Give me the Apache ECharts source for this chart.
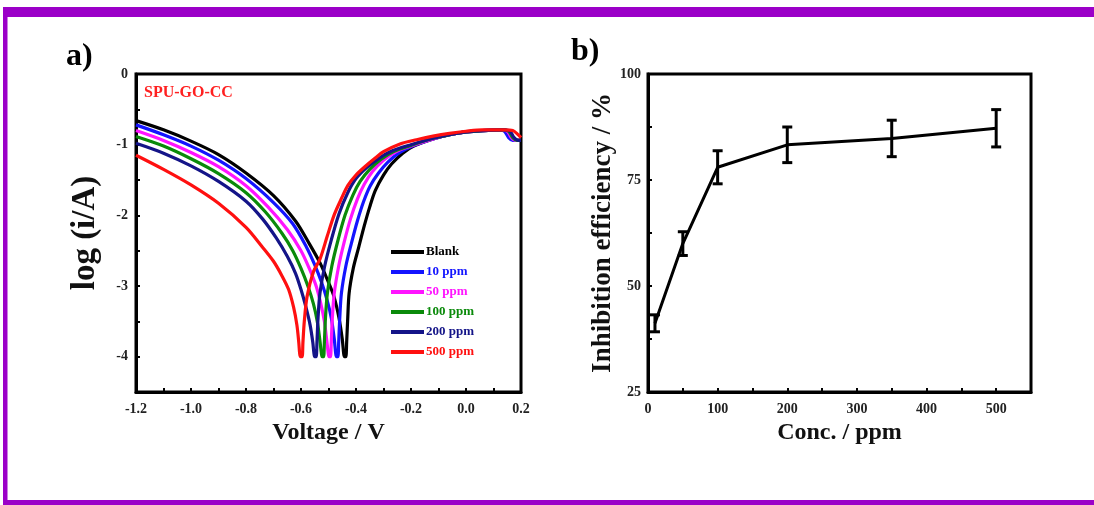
<!DOCTYPE html>
<html>
<head>
<meta charset="utf-8">
<script src="https://cdn.jsdelivr.net/npm/echarts@6/dist/echarts.min.js"></script>
<style>
  html, body { margin: 0; padding: 0; background: #fff; }
  #chart { width: 1094px; height: 505px; }
</style>
</head>
<body>
<div id="chart"></div>
<script>
// Polarisation curves (voltage in V, log current) for SPU-GO-CC in each inhibitor concentration
const seriesNames = ['Blank', '10 ppm', '50 ppm', '100 ppm', '200 ppm', '500 ppm'];
const seriesColors = ['#000000', '#1414ff', '#ff14ff', '#0a8a0a', '#141488', '#ff1010'];

const blank = [[-1.2,-0.66],[-1.1,-0.79],[-1.0,-0.95],[-0.9,-1.14],[-0.8,-1.40],[-0.7,-1.72],[-0.62,-2.08],[-0.57,-2.4],[-0.53,-2.68],[-0.5,-2.95],[-0.48,-3.15],[-0.462,-3.45],[-0.45,-3.75],[-0.445,-3.95],[-0.442,-4.0],[-0.437,-4.0],[-0.434,-3.8],[-0.43,-3.45],[-0.425,-3.1],[-0.41,-2.75],[-0.39,-2.45],[-0.37,-2.15],[-0.35,-1.88],[-0.33,-1.65],[-0.30,-1.43],[-0.27,-1.27],[-0.23,-1.12],[-0.19,-1.02],[-0.12,-0.92],[-0.06,-0.86],[0.0,-0.82],[0.06,-0.80],[0.13,-0.79],[0.15,-0.80],[0.165,-0.88],[0.18,-0.93],[0.2,-0.94]];
const ppm10 = [[-1.2,-0.72],[-1.1,-0.86],[-1.0,-1.02],[-0.9,-1.22],[-0.8,-1.48],[-0.7,-1.82],[-0.63,-2.12],[-0.58,-2.45],[-0.55,-2.7],[-0.525,-2.95],[-0.505,-3.2],[-0.49,-3.45],[-0.479,-3.75],[-0.474,-3.95],[-0.471,-4.0],[-0.466,-4.0],[-0.463,-3.8],[-0.459,-3.45],[-0.453,-3.1],[-0.437,-2.72],[-0.417,-2.4],[-0.395,-2.08],[-0.372,-1.8],[-0.348,-1.58],[-0.318,-1.4],[-0.285,-1.25],[-0.245,-1.12],[-0.2,-1.03],[-0.12,-0.92],[-0.06,-0.86],[0.0,-0.82],[0.06,-0.80],[0.125,-0.79],[0.14,-0.81],[0.155,-0.9],[0.17,-0.94],[0.2,-0.94]];
const ppm50 = [[-1.2,-0.80],[-1.1,-0.94],[-1.0,-1.11],[-0.9,-1.31],[-0.8,-1.58],[-0.72,-1.88],[-0.65,-2.2],[-0.6,-2.5],[-0.57,-2.75],[-0.545,-3.0],[-0.528,-3.25],[-0.515,-3.5],[-0.506,-3.78],[-0.501,-3.95],[-0.498,-4.0],[-0.493,-4.0],[-0.49,-3.8],[-0.486,-3.45],[-0.479,-3.1],[-0.463,-2.72],[-0.443,-2.38],[-0.42,-2.05],[-0.395,-1.77],[-0.37,-1.56],[-0.34,-1.38],[-0.3,-1.22],[-0.255,-1.1],[-0.2,-1.02],[-0.12,-0.92],[-0.06,-0.86],[0.0,-0.82],[0.06,-0.80],[0.13,-0.79],[0.15,-0.81],[0.165,-0.9],[0.18,-0.94],[0.2,-0.94]];
const ppm100 = [[-1.2,-0.885],[-1.1,-1.02],[-1.0,-1.2],[-0.9,-1.41],[-0.8,-1.68],[-0.73,-1.95],[-0.67,-2.25],[-0.63,-2.5],[-0.6,-2.75],[-0.575,-3.0],[-0.555,-3.25],[-0.541,-3.5],[-0.531,-3.78],[-0.526,-3.95],[-0.523,-4.0],[-0.518,-4.0],[-0.515,-3.8],[-0.511,-3.45],[-0.504,-3.1],[-0.488,-2.72],[-0.466,-2.36],[-0.44,-2.0],[-0.412,-1.72],[-0.385,-1.52],[-0.35,-1.35],[-0.31,-1.21],[-0.265,-1.1],[-0.2,-1.01],[-0.12,-0.91],[-0.06,-0.86],[0.0,-0.82],[0.06,-0.80],[0.135,-0.79],[0.155,-0.81],[0.17,-0.9],[0.185,-0.94],[0.2,-0.94]];
const ppm200 = [[-1.2,-0.98],[-1.1,-1.12],[-1.0,-1.3],[-0.9,-1.52],[-0.8,-1.8],[-0.74,-2.05],[-0.69,-2.32],[-0.65,-2.58],[-0.62,-2.82],[-0.6,-3.05],[-0.582,-3.3],[-0.567,-3.55],[-0.557,-3.8],[-0.553,-3.95],[-0.55,-4.0],[-0.545,-4.0],[-0.542,-3.8],[-0.538,-3.45],[-0.531,-3.1],[-0.514,-2.72],[-0.49,-2.35],[-0.462,-1.98],[-0.43,-1.68],[-0.4,-1.48],[-0.36,-1.32],[-0.315,-1.19],[-0.27,-1.09],[-0.2,-1.0],[-0.12,-0.91],[-0.06,-0.86],[0.0,-0.82],[0.06,-0.80],[0.14,-0.79],[0.16,-0.81],[0.175,-0.9],[0.19,-0.94],[0.2,-0.94]];
const ppm500 = [[-1.2,-1.15],[-1.1,-1.35],[-1.0,-1.57],[-0.9,-1.83],[-0.8,-2.17],[-0.74,-2.45],[-0.7,-2.65],[-0.67,-2.85],[-0.645,-3.05],[-0.627,-3.3],[-0.615,-3.55],[-0.608,-3.8],[-0.605,-3.95],[-0.602,-4.0],[-0.596,-4.0],[-0.593,-3.8],[-0.588,-3.5],[-0.578,-3.15],[-0.555,-2.8],[-0.531,-2.62],[-0.505,-2.3],[-0.48,-2.0],[-0.455,-1.78],[-0.43,-1.58],[-0.4,-1.43],[-0.37,-1.32],[-0.33,-1.19],[-0.3,-1.1],[-0.24,-0.99],[-0.18,-0.93],[-0.12,-0.88],[-0.06,-0.84],[0.0,-0.81],[0.06,-0.79],[0.14,-0.79],[0.17,-0.8],[0.19,-0.86],[0.2,-0.9]];
const curves = [blank, ppm10, ppm50, ppm100, ppm200, ppm500];

// Inhibition efficiency versus concentration, with error bars
const concentrations = [10, 50, 100, 200, 350, 500];
const efficiency = [41.2, 60.0, 78.0, 83.3, 84.8, 87.2];
const efficiencyError = [2.0, 2.8, 3.9, 4.2, 4.3, 4.4];

const FONT = '"Liberation Serif", "Times New Roman", serif';
const PURPLE = '#9b00c8';

const chart = echarts.init(document.getElementById('chart'), null, { renderer: 'canvas' });

const frameAxis = (extra) => Object.assign({
  axisLine: { show: true, onZero: false, lineStyle: { color: '#000', width: 3 } },
  axisTick: { show: true, inside: true, length: 4, lineStyle: { color: '#000', width: 2 } },
  splitLine: { show: false },
  axisLabel: { color: '#222', fontFamily: FONT, fontWeight: 'bold', fontSize: 14 },
  nameTextStyle: { color: '#111', fontFamily: FONT, fontWeight: 'bold' },
  nameLocation: 'middle'
}, extra);

const lineSeries = curves.map((data, i) => ({
  name: seriesNames[i],
  type: 'line',
  xAxisIndex: 0,
  yAxisIndex: 0,
  data: data,
  showSymbol: false,
  smooth: 0.3,
  lineStyle: { color: seriesColors[i], width: 3.2 },
  itemStyle: { color: seriesColors[i] },
  z: 2 + i,
  silent: true
}));

const option = {
  animation: false,
  backgroundColor: '#ffffff',
  textStyle: { fontFamily: FONT },
  grid: [
    { left: 136, top: 74, width: 385, height: 318, show: true, borderColor: '#000', borderWidth: 3 },
    { left: 648, top: 74, width: 383, height: 318, show: true, borderColor: '#000', borderWidth: 3 }
  ],
  legend: {
    left: 386, top: 240, orient: 'vertical',
    icon: 'rect', itemWidth: 33, itemHeight: 4, itemGap: 6,
    selectedMode: false,
    textStyle: { fontFamily: FONT, fontWeight: 'bold', fontSize: 13, lineHeight: 14, padding: [0, 0, 0, -3] },
    data: seriesNames.map((n, i) => ({ name: n, textStyle: { color: seriesColors[i] } }))
  },
  xAxis: [
    frameAxis({
      gridIndex: 0, type: 'value', min: -1.2, max: 0.2, interval: 0.1,
      name: 'Voltage / V', nameGap: 28,
      nameTextStyle: { color: '#111', fontFamily: FONT, fontWeight: 'bold', fontSize: 24 },
      axisLabel: { color: '#222', fontFamily: FONT, fontWeight: 'bold', fontSize: 14, margin: 10,
        formatter: v => (Math.round(v * 10) % 2 === 0 ? v.toFixed(1) : '') }
    }),
    frameAxis({
      gridIndex: 1, type: 'value', min: 0, max: 550, interval: 50,
      name: 'Conc. / ppm', nameGap: 28,
      nameTextStyle: { color: '#111', fontFamily: FONT, fontWeight: 'bold', fontSize: 24 },
      axisLabel: { color: '#222', fontFamily: FONT, fontWeight: 'bold', fontSize: 14, margin: 10,
        formatter: v => (v % 100 === 0 ? String(v) : '') }
    })
  ],
  yAxis: [
    frameAxis({
      gridIndex: 0, type: 'value', min: -4.5, max: 0, interval: 0.5,
      name: 'log (i/A)', nameGap: 34,
      nameTextStyle: { color: '#111', fontFamily: FONT, fontWeight: 'bold', fontSize: 33 },
      axisLabel: { color: '#222', fontFamily: FONT, fontWeight: 'bold', fontSize: 14, margin: 8,
        formatter: v => (Number.isInteger(v) ? String(v) : '') }
    }),
    frameAxis({
      gridIndex: 1, type: 'value', min: 25, max: 100, interval: 12.5,
      name: 'Inhibition efficiency / %', nameGap: 22,
      nameTextStyle: { color: '#111', fontFamily: FONT, fontWeight: 'bold', fontSize: 27 },
      axisLabel: { color: '#222', fontFamily: FONT, fontWeight: 'bold', fontSize: 14, margin: 7,
        formatter: v => (v % 25 === 0 ? String(v) : '') }
    })
  ],
  series: lineSeries.concat([
    {
      name: 'efficiency',
      type: 'line',
      xAxisIndex: 1,
      yAxisIndex: 1,
      data: concentrations.map((c, i) => [c, efficiency[i]]),
      showSymbol: false,
      lineStyle: { color: '#000', width: 3 },
      silent: true,
      z: 3
    },
    {
      name: 'efficiency error',
      type: 'custom',
      xAxisIndex: 1,
      yAxisIndex: 1,
      silent: true,
      z: 4,
      data: concentrations.map((c, i) => [c, efficiency[i] - efficiencyError[i], efficiency[i] + efficiencyError[i]]),
      renderItem: (params, api) => {
        const lo = api.coord([api.value(0), api.value(1)]);
        const hi = api.coord([api.value(0), api.value(2)]);
        const half = 5;
        const style = { stroke: '#000', lineWidth: 3, fill: null };
        return {
          type: 'group',
          children: [
            { type: 'line', shape: { x1: lo[0], y1: lo[1], x2: hi[0], y2: hi[1] }, style },
            { type: 'line', shape: { x1: lo[0] - half, y1: lo[1], x2: lo[0] + half, y2: lo[1] }, style },
            { type: 'line', shape: { x1: hi[0] - half, y1: hi[1], x2: hi[0] + half, y2: hi[1] }, style }
          ]
        };
      }
    }
  ]),
  graphic: [
    // outer purple frame
    { type: 'rect', left: 3, top: 7, shape: { width: 1091, height: 10 }, style: { fill: PURPLE }, silent: true },
    { type: 'rect', left: 3, top: 7, shape: { width: 4.5, height: 498 }, style: { fill: PURPLE }, silent: true },
    { type: 'rect', left: 3, top: 500, shape: { width: 1091, height: 5 }, style: { fill: PURPLE }, silent: true },
    // panel letters and sample name
    { type: 'text', left: 66, top: 41, style: { text: 'a)', fill: '#000', font: 'bold 32px ' + FONT }, silent: true },
    { type: 'text', left: 571, top: 36, style: { text: 'b)', fill: '#000', font: 'bold 32px ' + FONT }, silent: true },
    { type: 'text', left: 144, top: 85, style: { text: 'SPU-GO-CC', fill: '#ff2020', font: 'bold 16px ' + FONT }, silent: true }
  ]
};

chart.setOption(option);
</script>
</body>
</html>
